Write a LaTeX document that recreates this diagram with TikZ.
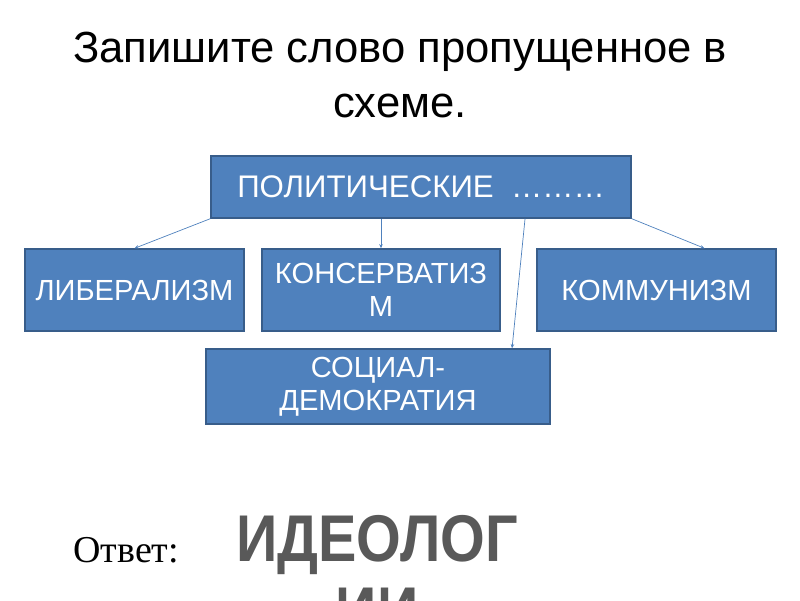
\documentclass[tikz,border=0pt]{standalone}
\usepackage{fontspec}
\setmainfont{Liberation Sans}
\newfontfamily\otvetfont{Liberation Serif}
\newfontfamily\answerfont[FakeStretch=0.87]{Liberation Sans}
\usetikzlibrary{arrows.meta,positioning}
\definecolor{ideoblue}{RGB}{79,129,189}
\definecolor{ideoedge}{RGB}{56,93,138}
\definecolor{ideogray}{RGB}{89,89,89}

\begin{document}
\begin{tikzpicture}[x=0.025cm,y=-0.025cm,
    ideobox/.style={draw=ideoedge,line width=1pt,fill=ideoblue,text=white,align=center,
      inner sep=2pt,font=\fontsize{20.7}{23.5}\selectfont},
    ideolink/.style={draw=ideoblue,line width=0.5pt,-{Stealth[length=3pt,width=2.5pt]}}]
        \useasboundingbox (0,0) rectangle (800,600);
        \node[align=center,font=\fontsize{31}{39}\selectfont] (title) at (400,75) {Запишите слово пропущенное в\\схеме.};
        \node[ideobox,minimum width=10.5cm,minimum height=1.55cm,font=\fontsize{22.2}{24}\selectfont] (top) at (421,187) {ПОЛИТИЧЕСКИЕ\ \ ………};
        \node[ideobox,minimum width=5.475cm,minimum height=2.05cm] (lib) at (134.5,290) {ЛИБЕРАЛИЗМ};
        \node[ideobox,minimum width=5.95cm,minimum height=2.05cm] (cons) at (381,290) {КОНСЕРВАТИЗ\\М};
        \node[ideobox,minimum width=5.975cm,minimum height=2.05cm] (comm) at (656.5,290) {КОММУНИЗМ};
        \node[ideobox,minimum width=8.6cm,minimum height=1.875cm] (soc) at (378,386.5) {СОЦИАЛ-\\ДЕМОКРАТИЯ};
        \draw[ideolink] (top.south west) -- (lib.north);
        \draw[ideolink] (top.south -| cons.north) -- (cons.north);
        \draw[ideolink] (top.south east) -- ([xshift=1.2cm]comm.north);
        \draw[ideolink] ([xshift=2.6cm]top.south) -- ([xshift=3.35cm]soc.north);
        % answer
        \node[anchor=base west,inner sep=0pt,font=\otvetfont\fontsize{27}{30}\selectfont] (otvet) at (73,562) {Ответ:};
        \node[anchor=north,inner sep=0pt,align=center,text=ideogray,
          font=\answerfont\bfseries\fontsize{47}{51}\selectfont] (answer) at (377,515) {ИДЕОЛОГ\\ИИ};
      \end{tikzpicture}
\end{document}
